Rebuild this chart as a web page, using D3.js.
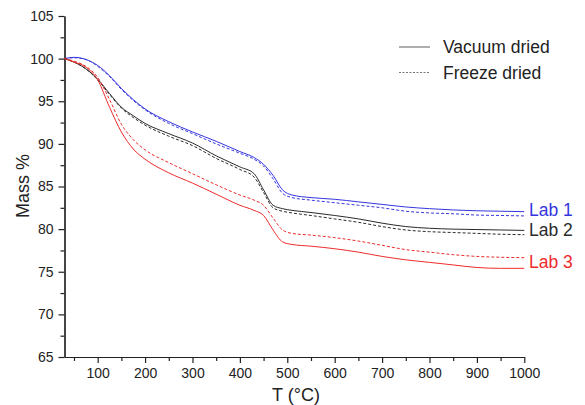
<!DOCTYPE html>
<html lang="en">
  <head>
    <meta charset="UTF-8" />
    <title>TGA</title>
    <style>
        body { margin: 0; background: #fff; }
        svg text { font-family: "Liberation Sans", Arial, sans-serif; fill: #222; }
        .axis path, .axis line { stroke: #222; stroke-width: 1.2; }
        .axis text { font-size: 14px; }
    </style>
    <script src="https://d3js.org/d3.v7.min.js"></script>
  </head>
  <body>
    <script>
        // temperatures (°C) shared by every curve
        const temps = [30, 50, 75, 100, 125, 150, 175, 200, 250, 300, 350, 400, 430, 450, 470, 490, 510, 550, 600, 650, 700, 750, 800, 850, 900, 950, 1000];

        // mass %
        const lab1Vacuum = [100, 100.15, 99.9, 99.2, 98.0, 96.5, 95.2, 94.1, 92.6, 91.4, 90.3, 89.1, 88.4, 87.6, 86.3, 84.6, 84.0, 83.7, 83.5, 83.2, 82.9, 82.6, 82.4, 82.25, 82.15, 82.1, 82.05];
        const lab1Freeze = [100, 100.1, 99.9, 99.1, 97.9, 96.4, 95.1, 94.0, 92.4, 91.2, 90.0, 88.9, 88.2, 87.4, 85.9, 84.2, 83.7, 83.4, 83.1, 82.8, 82.5, 82.1, 81.9, 81.8, 81.65, 81.6, 81.55];
        const lab2Vacuum = [100, 99.6, 98.8, 97.6, 95.9, 94.3, 93.3, 92.4, 91.2, 90.1, 88.6, 87.3, 86.5, 84.6, 82.8, 82.4, 82.2, 81.95, 81.6, 81.2, 80.7, 80.3, 80.1, 80.0, 79.95, 79.9, 79.85];
        const lab2Freeze = [100, 99.6, 98.8, 97.5, 95.8, 94.2, 93.1, 92.2, 90.9, 89.8, 88.3, 87.0, 86.1, 84.3, 82.5, 82.1, 81.9, 81.6, 81.2, 80.8, 80.3, 79.9, 79.7, 79.6, 79.5, 79.4, 79.35];
        const lab3Vacuum = [100, 99.6, 99.0, 97.5, 94.3, 91.4, 89.4, 88.2, 86.6, 85.4, 84.1, 82.8, 82.2, 81.6, 79.9, 78.5, 78.2, 78.0, 77.7, 77.3, 76.8, 76.4, 76.1, 75.8, 75.5, 75.4, 75.4];
        const lab3Freeze = [100, 99.7, 99.1, 97.8, 95.2, 92.3, 90.5, 89.3, 87.8, 86.5, 85.2, 84.0, 83.4, 82.8, 81.3, 79.9, 79.5, 79.3, 79.0, 78.6, 78.1, 77.6, 77.3, 77.0, 76.8, 76.7, 76.65];

        const labNames = ["Lab 1", "Lab 2", "Lab 3"];
        const labColors = ["#3535e0", "#2a2a2a", "#ee2b2b"];
        const legendNames = ["Vacuum dried", "Freeze dried"];
        const xTicks = [100, 200, 300, 400, 500, 600, 700, 800, 900, 1000];
        const yTicks = [65, 70, 75, 80, 85, 90, 95, 100, 105];

        const width = 585;
        const height = 405;

        const svg = d3.select("body")
                    .append("svg")
                    .attr("width", width)
                    .attr("height", height);

        const scaleX = d3.scaleLinear().domain([30, 1000]).range([64.5, 524.3]);
        const scaleY = d3.scaleLinear().domain([65, 105]).range([357, 16]);

        // minor ticks first, then main axes on top
        svg.append("g")
            .classed("axis", true)
            .attr("transform", "translate(64.5,0)")
            .call(d3.axisLeft(scaleY).tickValues(d3.range(67.5, 105, 5)).tickSize(4).tickFormat("").tickSizeOuter(0));
        svg.append("g")
            .classed("axis", true)
            .attr("transform", "translate(0,357)")
            .call(d3.axisBottom(scaleX).tickValues(d3.range(50, 1000, 100)).tickSize(4).tickFormat("").tickSizeOuter(0));

        svg.append("g")
            .classed("axis", true)
            .attr("transform", "translate(64.5,0)")
            .call(d3.axisLeft(scaleY).tickValues(yTicks).tickSize(6).tickPadding(5).tickSizeOuter(0).tickFormat(d3.format("d")));
        svg.append("g")
            .classed("axis", true)
            .attr("transform", "translate(0,357)")
            .call(d3.axisBottom(scaleX).tickValues(xTicks).tickSize(6).tickPadding(5).tickSizeOuter(0).tickFormat(d3.format("d")));

        // axis titles
        svg.append("text")
            .attr("transform", "translate(29,186) rotate(-90)")
            .attr("text-anchor", "middle")
            .style("font-size", "18px")
            .text("Mass %");
        svg.append("text")
            .attr("x", 296)
            .attr("y", 401)
            .attr("text-anchor", "middle")
            .style("font-size", "18px")
            .text("T (°C)");

        const series = [
            { lab: 0, dashed: false, values: lab1Vacuum },
            { lab: 0, dashed: true, values: lab1Freeze },
            { lab: 1, dashed: false, values: lab2Vacuum },
            { lab: 1, dashed: true, values: lab2Freeze },
            { lab: 2, dashed: false, values: lab3Vacuum },
            { lab: 2, dashed: true, values: lab3Freeze }
        ];

        const line = d3.line()
                    .x((d, i) => scaleX(temps[i]))
                    .y(d => scaleY(d))
                    .curve(d3.curveMonotoneX);

        svg.append("g")
            .selectAll("path")
            .data(series)
            .join("path")
            .attr("fill", "none")
            .attr("stroke", d => labColors[d.lab])
            .attr("stroke-width", 1)
            .attr("stroke-dasharray", d => d.dashed ? "3,2" : null)
            .attr("d", d => line(d.values));

        // lab labels at the right end
        const labEnds = [lab1Vacuum, lab2Vacuum, lab3Vacuum];
        const labOffsets = [4, 6, 0];
        svg.append("g")
            .selectAll("text")
            .data(labNames)
            .join("text")
            .attr("x", 529)
            .attr("y", (d, i) => scaleY(labEnds[i][labEnds[i].length - 1]) + labOffsets[i])
            .style("fill", (d, i) => labColors[i])
            .style("font-size", "17.5px")
            .text(d => d);

        // legend
        const legend = svg.append("g").attr("transform", "translate(399,47)");
        legendNames.forEach((name, i) => {
            legend.append("line")
                .attr("x1", 0).attr("x2", 31)
                .attr("y1", i * 25.5).attr("y2", i * 25.5)
                .attr("stroke", "#777")
                .attr("stroke-width", 1.2)
                .attr("stroke-dasharray", i === 1 ? "2,1.5" : null);
            legend.append("text")
                .attr("x", 44)
                .attr("y", i * 25.5 + 6)
                .style("font-size", "17.5px")
                .text(name);
        });
    </script>
  </body>
</html>
